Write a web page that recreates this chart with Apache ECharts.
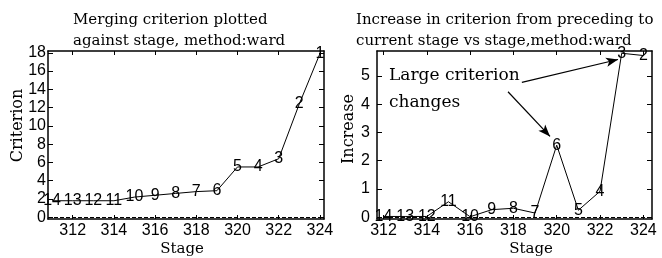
<!DOCTYPE html>
<html>
<head>
<meta charset="utf-8">
<script src="https://cdn.jsdelivr.net/npm/echarts@6/dist/echarts.min.js"></script>
<style>
html,body{margin:0;padding:0;background:#fff;}
#c{width:662px;height:258px;}
</style>
</head>
<body>
<div id="c"></div>
<script>
// ---- data ----
const stagesLeft = [311, 312, 313, 314, 315, 316, 317, 318, 319, 320, 321, 322, 323, 324];
const criterion = [1.8, 1.8, 1.8, 1.8, 2.2, 2.4, 2.6, 2.8, 2.9, 5.5, 5.5, 6.4, 12.4, 17.9];
const labelsLeft = ['14', '13', '12', '11', '10', '9', '8', '7', '6', '5', '4', '3', '2', '1'];

const stagesRight = [312, 313, 314, 315, 316, 317, 318, 319, 320, 321, 322, 323, 324];
const increase = [0.03, 0.03, 0.03, 0.55, 0.02, 0.27, 0.32, 0.15, 2.55, 0.25, 0.92, 5.8, 5.72];
const labelsRight = ['14', '13', '12', '11', '10', '9', '8', '7', '6', '5', '4', '3', '2'];

const xTicks = [312, 314, 316, 318, 320, 322, 324];
const yTicksLeft = [0, 2, 4, 6, 8, 10, 12, 14, 16, 18];
const yTicksRight = [0, 1, 2, 3, 4, 5];

const titleLeft = 'Merging criterion plotted\nagainst stage, method:ward';
const titleRight = 'Increase in criterion from preceding to\ncurrent stage vs stage,method:ward';
const yNameLeft = 'Criterion';
const yNameRight = 'Increase';
const xName = 'Stage';
const annotation = ['Large criterion', 'changes'];
// arrows (data coordinates on right chart): [from, to]
const arrows = [
  [[318.39, 4.77], [322.83, 5.58]],
  [[317.75, 4.44], [319.69, 2.86]]
];

// ---- chart ----
const SERIF = 'DejaVu Serif';
const SANS = 'Liberation Sans';
const chart = echarts.init(document.getElementById('c'), null, {renderer: 'canvas'});

function xAxisPair(gi, min, max) {
  const base = {
    gridIndex: gi, type: 'value', min: min, max: max,
    axisLine: {show: true, onZero: false, lineStyle: {color: '#000', width: 1.5}},
    axisTick: {show: true, inside: true, length: 4, lineStyle: {color: '#000', width: 1}, customValues: xTicks},
    splitLine: {show: false}
  };
  return [
    Object.assign({}, base, {position: 'bottom',
      axisLabel: {show: true, customValues: xTicks, color: '#000', fontFamily: SANS, fontSize: 16, margin: 4}}),
    Object.assign({}, base, {position: 'top', axisLabel: {show: false}})
  ];
}
function yAxisPair(gi, min, max, ticks, margin) {
  const base = {
    gridIndex: gi, type: 'value', min: min, max: max,
    axisLine: {show: true, onZero: false, lineStyle: {color: '#000', width: 1.5}},
    axisTick: {show: true, inside: true, length: 5, lineStyle: {color: '#000', width: 1}, customValues: ticks},
    splitLine: {show: false}
  };
  return [
    Object.assign({}, base, {position: 'left',
      axisLabel: {show: true, customValues: ticks, color: '#000', fontFamily: SANS, fontSize: 16, margin: margin}}),
    Object.assign({}, base, {position: 'right', axisLabel: {show: false}})
  ];
}

const lineStyle = {color: '#000', width: 1};
const zeroLine = {
  silent: true, symbol: 'none', label: {show: false},
  lineStyle: {color: '#000', type: [4, 2], width: 1},
  data: [{yAxis: 0}]
};

const titleStyle = {fontFamily: SERIF, fontSize: 15, fontWeight: 'normal', color: '#000', lineHeight: 21};
const option = {
  backgroundColor: '#fff',
  animation: false,
  title: [
    {text: titleLeft, left: 73, top: 10, padding: 0, textStyle: titleStyle},
    {text: titleRight, left: 356, top: 10, padding: 0, textStyle: titleStyle}
  ],
  grid: [
    {left: 48, top: 51, width: 276, height: 168},
    {left: 377, top: 51, width: 275, height: 168}
  ],
  xAxis: [].concat(xAxisPair(0, 310.8, 324.2), xAxisPair(1, 311.7, 324.4)),
  yAxis: [].concat(yAxisPair(0, -0.2, 18.2, yTicksLeft, 2), yAxisPair(1, -0.06, 5.88, yTicksRight, 7)),
  series: [
    {
      type: 'line', xAxisIndex: 0, yAxisIndex: 0,
      data: stagesLeft.map((s, i) => [s, criterion[i]]),
      symbol: 'circle', symbolSize: 0.1, itemStyle: {color: '#000'},
      lineStyle: lineStyle,
      label: {show: true, position: 'inside', formatter: p => labelsLeft[p.dataIndex],
        color: '#000', fontFamily: SANS, fontSize: 16},
      markLine: zeroLine
    },
    {
      type: 'line', xAxisIndex: 2, yAxisIndex: 2,
      data: stagesRight.map((s, i) => [s, increase[i]]),
      symbol: 'circle', symbolSize: 0.1, itemStyle: {color: '#000'},
      lineStyle: lineStyle,
      label: {show: true, position: 'inside', formatter: p => labelsRight[p.dataIndex],
        color: '#000', fontFamily: SANS, fontSize: 16},
      markLine: {
        silent: true, label: {show: false}, symbol: 'none',
        lineStyle: {color: '#000', type: [4, 2], width: 1},
        data: [{yAxis: 0}].concat(arrows.map(a => [
          {coord: a[0], symbol: 'none', lineStyle: {type: 'solid', width: 1.2}},
          {coord: a[1], symbol: 'arrow', symbolSize: [7, 12]}
        ]))
      }
    }
  ],
  graphic: [
    {type: 'text', x: 18, y: 125.5, rotation: Math.PI / 2, style: {text: yNameLeft, font: '16px "' + SERIF + '"', fill: '#000', align: 'center', verticalAlign: 'middle'}},
    {type: 'text', x: 349, y: 129, rotation: Math.PI / 2, style: {text: yNameRight, font: '16px "' + SERIF + '"', fill: '#000', align: 'center', verticalAlign: 'middle'}},
    {type: 'text', x: 182, y: 249, style: {text: xName, font: '15px "' + SERIF + '"', fill: '#000', align: 'center', verticalAlign: 'middle'}},
    {type: 'text', x: 531, y: 249, style: {text: xName, font: '15px "' + SERIF + '"', fill: '#000', align: 'center', verticalAlign: 'middle'}},
    {type: 'text', x: 389, y: 76, style: {text: annotation[0], font: '17px "' + SERIF + '"', fill: '#000', align: 'left', verticalAlign: 'middle'}},
    {type: 'text', x: 389, y: 103, style: {text: annotation[1], font: '17px "' + SERIF + '"', fill: '#000', align: 'left', verticalAlign: 'middle'}}
  ]
};
chart.setOption(option);
</script>
</body>
</html>
